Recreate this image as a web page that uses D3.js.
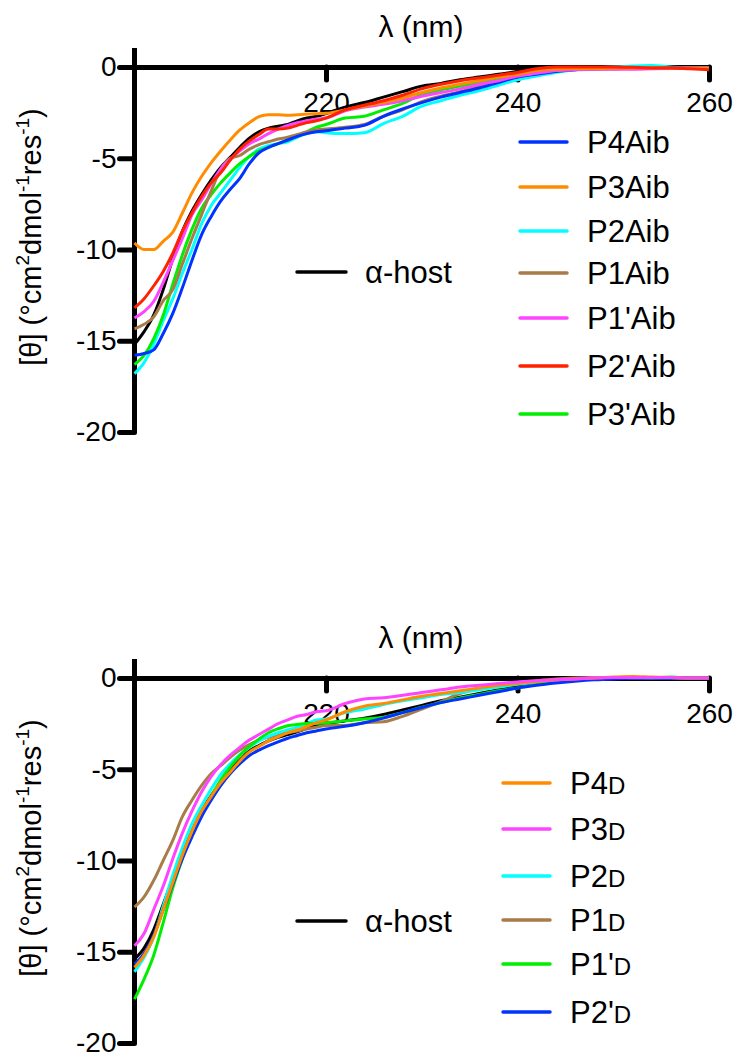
<!DOCTYPE html>
<html><head><meta charset="utf-8">
<script src="https://cdn.jsdelivr.net/npm/d3@7"></script>
<style>
html,body{margin:0;padding:0;background:#fff;}
text{font-family:"Liberation Sans",Arial,sans-serif;fill:#000;}
</style></head>
<body><svg id="chart" width="738" height="1057"></svg>
<script>
// ---------- data ----------
const wavelengths = [200,201,202,203,204,205,206,207,208,209,210,211,212,213,214,215,216,217,218,219,220,222,224,226,228,230,232,234,236,238,240,242,244,246,248,250,252,254,256,258,260];
const xTicks = [220,240,260];
const yTicks = [0,-5,-10,-15,-20];
const xTickLabels = ["220","240","260"];
const yTickLabels = ["0","-5","-10","-15","-20"];

// top panel (Aib)
const hostTop   = [-15.2,-14.5,-13.6,-12.2,-10.5,-9.0,-7.9,-7.0,-6.2,-5.5,-4.95,-4.4,-3.9,-3.55,-3.35,-3.25,-3.15,-2.95,-2.8,-2.7,-2.55,-2.2,-1.95,-1.65,-1.35,-1.05,-0.9,-0.7,-0.55,-0.4,-0.25,-0.05,0,0,0,0,0,0,0,0,0];
const p4Aib     = [-15.8,-15.7,-15.5,-14.6,-13.5,-12.1,-10.6,-9.2,-8.2,-7.35,-6.7,-6.1,-5.3,-4.7,-4.4,-4.2,-4.0,-3.8,-3.65,-3.55,-3.5,-3.35,-3.2,-2.7,-2.3,-1.95,-1.65,-1.4,-1.15,-0.85,-0.55,-0.4,-0.25,-0.15,-0.1,-0.05,-0.05,-0.05,-0.03,-0.03,-0.03];
const p3Aib     = [-9.64,-10.0,-10.0,-9.55,-9.05,-8.0,-6.9,-6.0,-5.25,-4.6,-4.0,-3.45,-3.05,-2.72,-2.62,-2.62,-2.65,-2.62,-2.58,-2.56,-2.54,-2.35,-2.15,-1.95,-1.7,-1.4,-1.15,-0.95,-0.75,-0.55,-0.4,-0.2,-0.12,-0.08,-0.08,-0.06,-0.05,-0.04,-0.05,-0.05,-0.05];
const p2Aib     = [-16.8,-16.2,-15.2,-13.9,-12.7,-11.3,-10.0,-8.6,-7.6,-6.9,-6.2,-5.5,-4.9,-4.5,-4.3,-4.2,-4.1,-3.85,-3.65,-3.55,-3.6,-3.65,-3.6,-3.1,-2.7,-2.15,-1.85,-1.55,-1.3,-1.0,-0.7,-0.5,-0.3,-0.15,-0.05,0,0.05,0.08,0,-0.05,-0.1];
const p1Aib     = [-14.35,-14.1,-13.7,-12.8,-12.2,-10.8,-9.4,-8.1,-6.8,-5.6,-5.0,-4.85,-4.5,-4.25,-4.1,-3.95,-3.85,-3.7,-3.55,-3.45,-3.4,-3.3,-3.15,-2.7,-2.35,-1.9,-1.6,-1.35,-1.05,-0.8,-0.55,-0.35,-0.15,-0.1,-0.1,-0.1,-0.08,-0.05,-0.05,-0.05,-0.05];
const p1pAib    = [-13.75,-13.4,-12.85,-11.8,-10.6,-9.4,-8.1,-7.3,-6.4,-5.6,-5.05,-4.6,-4.2,-3.95,-3.65,-3.4,-3.2,-3.05,-2.95,-2.85,-2.8,-2.4,-2.2,-2.05,-1.85,-1.6,-1.4,-1.2,-0.95,-0.75,-0.5,-0.35,-0.2,-0.15,-0.12,-0.12,-0.12,-0.1,-0.08,-0.05,-0.05];
const p2pAib    = [-13.2,-12.7,-12.0,-11.2,-10.2,-9.0,-8.0,-7.1,-6.35,-5.8,-5.1,-4.5,-4.05,-3.7,-3.4,-3.4,-3.35,-3.2,-3.05,-2.95,-2.8,-2.35,-2.1,-1.85,-1.55,-1.2,-0.95,-0.75,-0.6,-0.45,-0.3,-0.1,0,0,0,0,-0.02,-0.05,-0.05,-0.1,-0.15];
const p3pAib    = [-16.3,-15.8,-14.9,-13.6,-11.9,-10.3,-8.9,-7.75,-7.0,-6.35,-5.8,-5.3,-4.9,-4.6,-4.4,-4.2,-4.0,-3.8,-3.55,-3.3,-3.15,-2.8,-2.7,-2.35,-2.0,-1.5,-1.25,-1.05,-0.85,-0.65,-0.45,-0.3,-0.2,-0.15,-0.12,-0.1,-0.05,-0.05,-0.05,-0.05,-0.05];

// bottom panel (D)
const hostBot   = [-15.4,-14.8,-13.8,-12.4,-11.0,-9.6,-8.4,-7.3,-6.45,-5.7,-5.0,-4.5,-4.0,-3.7,-3.45,-3.25,-3.1,-2.95,-2.75,-2.6,-2.5,-2.35,-2.2,-2.0,-1.75,-1.5,-1.25,-1.05,-0.85,-0.65,-0.45,-0.3,-0.2,-0.1,-0.05,0,0,0,0,0,0];
const p4D       = [-15.86,-15.2,-14.2,-12.7,-11.2,-9.7,-8.4,-7.3,-6.5,-5.75,-5.15,-4.55,-4.05,-3.75,-3.45,-3.22,-3.0,-2.85,-2.65,-2.45,-2.3,-1.85,-1.55,-1.4,-1.2,-1.0,-0.85,-0.7,-0.55,-0.4,-0.3,-0.2,-0.1,-0.05,0,0.05,0.08,0.05,0.02,0,0];
const p3D       = [-14.67,-14.0,-12.7,-11.4,-9.9,-8.5,-7.3,-6.25,-5.4,-4.75,-4.23,-3.8,-3.4,-3.1,-2.8,-2.5,-2.3,-2.1,-2.0,-1.85,-1.8,-1.4,-1.15,-1.08,-0.95,-0.8,-0.65,-0.5,-0.4,-0.3,-0.22,-0.15,-0.1,-0.05,0,0.02,0.02,0.02,0.02,0,0];
const p2D       = [-16.1,-15.3,-14.2,-12.5,-10.8,-9.3,-8.0,-7.0,-6.1,-5.3,-4.7,-4.2,-3.8,-3.45,-3.2,-3.0,-2.85,-2.7,-2.5,-2.3,-2.25,-1.9,-1.7,-1.45,-1.25,-1.08,-0.9,-0.8,-0.65,-0.5,-0.35,-0.25,-0.15,-0.08,-0.03,0,0,0,0,0,0];
const p1D       = [-12.56,-12.0,-11.1,-10.0,-8.9,-7.6,-6.7,-5.9,-5.25,-4.8,-4.35,-3.95,-3.65,-3.4,-3.25,-3.1,-3.0,-2.9,-2.8,-2.7,-2.6,-2.6,-2.45,-2.4,-2.1,-1.7,-1.3,-0.85,-0.6,-0.4,-0.25,-0.15,-0.05,0,0.02,0.02,0.02,0.02,0.02,0,0];
const p1pD      = [-17.6,-16.5,-15.2,-13.4,-11.5,-9.9,-8.5,-7.4,-6.5,-5.6,-4.87,-4.25,-3.75,-3.35,-3.0,-2.78,-2.62,-2.55,-2.5,-2.49,-2.45,-2.35,-2.25,-2.15,-1.9,-1.6,-1.35,-1.1,-0.9,-0.7,-0.55,-0.35,-0.2,-0.1,-0.05,0,0,0,0.05,0,0];
const p2pD      = [-15.68,-15.1,-14.1,-12.7,-11.3,-9.9,-8.7,-7.6,-6.7,-5.9,-5.24,-4.7,-4.25,-3.95,-3.7,-3.5,-3.3,-3.15,-3.0,-2.9,-2.8,-2.65,-2.45,-2.2,-1.9,-1.62,-1.35,-1.15,-0.95,-0.75,-0.55,-0.4,-0.28,-0.18,-0.1,-0.05,-0.02,0,0,0,0];

// series definitions
const topSeries = [
  {key:"host", values:hostTop, color:"#000000"},
  {key:"P2Aib", values:p2Aib, color:"#00ffff"},
  {key:"P3'Aib", values:p3pAib, color:"#00ee00"},
  {key:"P1Aib", values:p1Aib, color:"#a87c48"},
  {key:"P4Aib", values:p4Aib, color:"#0033ff"},
  {key:"P1'Aib", values:p1pAib, color:"#ff44ff"},
  {key:"P3Aib", values:p3Aib, color:"#ff8c00"},
  {key:"P2'Aib", values:p2pAib, color:"#ff2200"}
];
const topLegend = [
  {main:"P4Aib", sub:"", color:"#0033ff"},
  {main:"P3Aib", sub:"", color:"#ff8c00"},
  {main:"P2Aib", sub:"", color:"#00ffff"},
  {main:"P1Aib", sub:"", color:"#a87c48"},
  {main:"P1'Aib", sub:"", color:"#ff44ff"},
  {main:"P2'Aib", sub:"", color:"#ff2200"},
  {main:"P3'Aib", sub:"", color:"#00ee00"}
];
const botSeries = [
  {key:"host", values:hostBot, color:"#000000"},
  {key:"P1D", values:p1D, color:"#a87c48"},
  {key:"P2D", values:p2D, color:"#00ffff"},
  {key:"P1'D", values:p1pD, color:"#00ee00"},
  {key:"P2'D", values:p2pD, color:"#0033ff"},
  {key:"P4D", values:p4D, color:"#ff8c00"},
  {key:"P3D", values:p3D, color:"#ff44ff"}
];
const botLegend = [
  {main:"P4", sub:"D", color:"#ff8c00"},
  {main:"P3", sub:"D", color:"#ff44ff"},
  {main:"P2", sub:"D", color:"#00ffff"},
  {main:"P1", sub:"D", color:"#a87c48"},
  {main:"P1'", sub:"D", color:"#00ee00"},
  {main:"P2'", sub:"D", color:"#0033ff"}
];

// ---------- drawing ----------
const svg = d3.select("#chart");
const x = d3.scaleLinear().domain([200,260]).range([134.5,709]);

function panel(y0, series, legend, legendRows, legX, legendTextX) {
  const y = d3.scaleLinear().domain([1.04,-20]).range([y0-19,y0+365]);
  const g = svg.append("g");

  const ya = g.append("g").attr("transform","translate(134.5,0)")
    .call(d3.axisLeft(y).tickValues(yTicks).tickFormat((d,i)=>yTickLabels[i]).tickSize(15).tickSizeOuter(0).tickPadding(3));
  const xa = g.append("g").attr("transform",`translate(0,${y(0)})`)
    .call(d3.axisBottom(x).tickValues(xTicks).tickFormat((d,i)=>xTickLabels[i]).tickSize(13).tickSizeOuter(0).tickPadding(12));
  [ya,xa].forEach(a=>{
    a.select(".domain").attr("stroke","#000").attr("stroke-width",5);
    a.selectAll(".tick line").attr("stroke","#000").attr("stroke-width",5).attr("stroke-linecap","round");
    a.selectAll(".tick text").attr("font-size",28).attr("font-family","Liberation Sans, Arial, sans-serif").attr("fill","#000");
  });
  ya.select(".domain").attr("d",`M0,${y(1.04)}V${y(-20)}`);

  g.append("text").attr("x",421).attr("y",y0-30).attr("text-anchor","middle").attr("font-size",30).text("λ (nm)");
  const yt = g.append("text").attr("transform",`translate(41,${y0+170}) rotate(-90)`).attr("text-anchor","middle").attr("font-size",29);
  yt.append("tspan").text("[θ] (°cm");
  yt.append("tspan").attr("font-size",19).attr("dy",-12).text("2");
  yt.append("tspan").attr("dy",12).text("dmol");
  yt.append("tspan").attr("font-size",19).attr("dy",-12).text("-1");
  yt.append("tspan").attr("dy",12).text("res");
  yt.append("tspan").attr("font-size",19).attr("dy",-12).text("-1");
  yt.append("tspan").attr("dy",12).text(")");

  const line = d3.line().x((d,i)=>x(wavelengths[i])).y(d=>y(d)).curve(d3.curveMonotoneX);
  g.append("g").selectAll("path").data(series).join("path")
    .attr("d",d=>line(d.values)).attr("fill","none").attr("stroke",d=>d.color)
    .attr("stroke-width",3).attr("stroke-linejoin","round");

  const hostY = legendRows.host;
  g.append("line").attr("x1",297).attr("x2",346).attr("y1",hostY).attr("y2",hostY).attr("stroke","#000").attr("stroke-width",3.5).attr("stroke-linecap","round");
  g.append("text").attr("x",365).attr("y",hostY).attr("dy","0.36em").attr("font-size",31).text("α-host");

  const lg = g.append("g").selectAll("g").data(legend).join("g")
    .attr("transform",(d,i)=>`translate(0,${legendRows.rows[i]})`);
  lg.append("line").attr("x1",legX).attr("x2",legX+47).attr("stroke",d=>d.color).attr("stroke-width",3.5).attr("stroke-linecap","round");
  const lt = lg.append("text").attr("x",legendTextX).attr("dy","0.36em").attr("font-size",31);
  lt.append("tspan").text(d=>d.main);
  lt.append("tspan").attr("font-size",24).text(d=>d.sub);
}

panel(67, topSeries, topLegend, {host:272, rows:[142,187,231,273,318,366,414]}, 520, 587);
panel(678, botSeries, botLegend, {host:921, rows:[783,829,876,920,964,1012]}, 503, 570);
</script></body></html>
